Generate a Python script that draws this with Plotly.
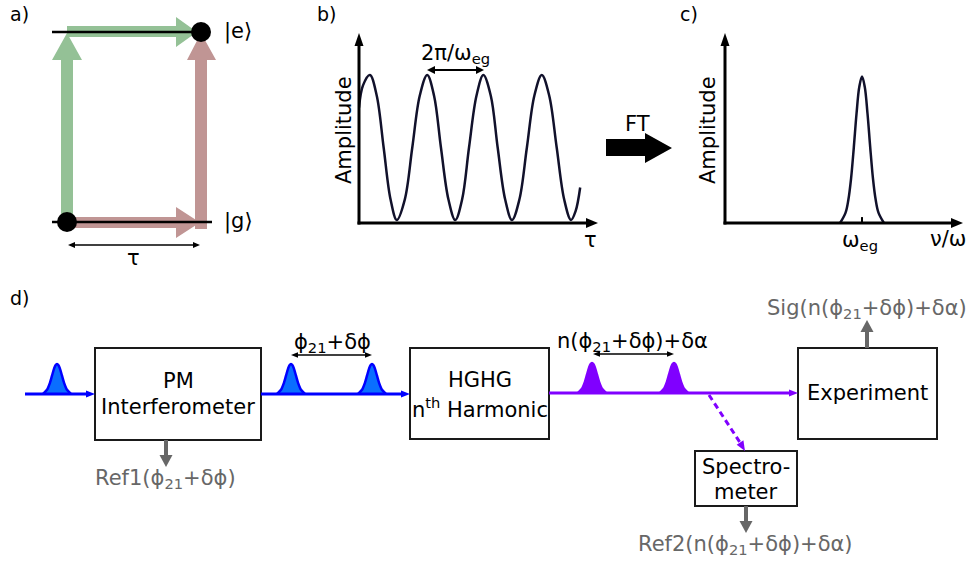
import plotly.graph_objects as go

W, H = 980, 561
FONT = "DejaVu Sans"
GRAY = "#676767"
BLUE = "#0000ff"
BLUE_FILL = "#0a6eff"
PURPLE = "#8000ff"
GREEN = "#94c196"
ROSE = "#c09594"
CURVE = "#11112b"

# ---- data ----
# panel b: interferogram (tau in units of 2pi/w_eg, normalised amplitude)
tau_b = [0.00, 0.07, 0.19, 0.31, 0.43, 0.55, 0.66, 0.80, 0.93, 1.06, 1.19, 1.31, 1.43, 1.56,
         1.68, 1.80, 1.92, 2.05, 2.17, 2.30, 2.42, 2.55, 2.67, 2.80, 2.93, 3.06, 3.19, 3.32,
         3.45, 3.58, 3.70, 3.78, 3.86]
amp_b = [0.78, 0.93, 1.00, 0.86, 0.51, 0.16, 0.02, 0.16, 0.51, 0.86, 1.00, 0.86, 0.51, 0.16,
         0.02, 0.16, 0.51, 0.86, 1.00, 0.86, 0.51, 0.16, 0.02, 0.16, 0.51, 0.86, 1.00, 0.86,
         0.51, 0.16, 0.02, 0.08, 0.24]
# panel c: spectrum (nu in units of w_eg)
nu_c = [0.84, 0.88, 0.90, 0.92, 0.94, 0.96, 0.98, 1.00, 1.02, 1.04, 1.06, 1.08, 1.10, 1.12, 1.16]
amp_c = [0.00, 0.07, 0.155, 0.30, 0.51, 0.74, 0.92, 0.99, 0.92, 0.74, 0.51, 0.30, 0.155, 0.07, 0.00]
# panel d: pulse profile (offset px, relative height)
pulse_dx = [-14, -10, -7, -5, -3, -1.5, 0, 1.5, 3, 5, 7, 10, 14]
pulse_h = [0.0, 0.14, 0.38, 0.61, 0.84, 0.96, 1.0, 0.96, 0.84, 0.61, 0.38, 0.14, 0.0]
blue_pulses = [57, 291, 372]
purple_pulses = [592, 674]

# text labels
lbl_e, lbl_g, lbl_tau = "|e⟩", "|g⟩", "τ"
lbl_amp = "Amplitude"
lbl_period = "2π/ω<sub>eg</sub>"
lbl_weg = "ω<sub>eg</sub>"
lbl_nu = "ν/ω"
lbl_ft = "FT"
lbl_phase1 = "ϕ<sub>21</sub>+δϕ"
lbl_phase2 = "n(ϕ<sub>21</sub>+δϕ)+δα"
lbl_ref1 = "Ref1(ϕ<sub>21</sub>+δϕ)"
lbl_sig = "Sig(n(ϕ<sub>21</sub>+δϕ)+δα)"
lbl_ref2 = "Ref2(n(ϕ<sub>21</sub>+δϕ)+δα)"

fig = go.Figure()

# ---- panel b & c curves ----
fig.add_trace(go.Scatter(x=tau_b, y=amp_b, xaxis="x2", yaxis="y2", mode="lines",
                         line=dict(color=CURVE, width=2.5, shape="spline", smoothing=1.0),
                         hoverinfo="skip", showlegend=False))
fig.add_trace(go.Scatter(x=nu_c, y=amp_c, xaxis="x3", yaxis="y3", mode="lines",
                         line=dict(color=CURVE, width=2.5, shape="spline", smoothing=1.0),
                         hoverinfo="skip", showlegend=False))

# ---- panel d pulses ----
PULSE_HEIGHT = 30
def add_pulse(cx, base_y, line_col, fill_col):
    xs = [cx + d for d in pulse_dx]
    ys = [base_y - PULSE_HEIGHT * h for h in pulse_h]
    fig.add_trace(go.Scatter(x=xs, y=ys, mode="lines", fill="toself", fillcolor=fill_col,
                             line=dict(color=line_col, width=2.5, shape="spline", smoothing=0.8),
                             hoverinfo="skip", showlegend=False))
for c in blue_pulses:
    add_pulse(c, 394, BLUE, BLUE_FILL)
for c in purple_pulses:
    add_pulse(c, 393, PURPLE, PURPLE)

shapes = []
def poly(path, color, layer="above"):
    shapes.append(dict(type="path", path=path, xref="x", yref="y", fillcolor=color,
                       line=dict(width=0), layer=layer))
def line(x0, y0, x1, y1, color="black", width=2.5, dash="solid", xref="x", yref="y"):
    shapes.append(dict(type="line", x0=x0, y0=y0, x1=x1, y1=y1, xref=xref, yref=yref,
                       line=dict(color=color, width=width, dash=dash), layer="above"))
def rect(x0, y0, x1, y1):
    shapes.append(dict(type="rect", x0=x0, y0=y0, x1=x1, y1=y1, xref="x", yref="y",
                       line=dict(color="#1a1a1a", width=2), fillcolor="white", layer="below"))
def circle(cx, cy, r):
    shapes.append(dict(type="circle", x0=cx - r, y0=cy - r, x1=cx + r, y1=cy + r, xref="x", yref="y",
                       fillcolor="black", line=dict(width=0), layer="above"))

def head(tx, ty, direction, length, half, color):
    # filled triangular arrow head with tip at (tx, ty)
    if direction == "right":
        p = f"M{tx},{ty} L{tx-length},{ty-half} L{tx-length},{ty+half} Z"
    elif direction == "left":
        p = f"M{tx},{ty} L{tx+length},{ty-half} L{tx+length},{ty+half} Z"
    elif direction == "up":
        p = f"M{tx},{ty} L{tx-half},{ty+length} L{tx+half},{ty+length} Z"
    else:  # down
        p = f"M{tx},{ty} L{tx-half},{ty-length} L{tx+half},{ty-length} Z"
    poly(p, color)

def harrow(x0, x1, y, color="black", width=1.5, length=8, half=3.5, both=False):
    line(x0 + (length - 1 if both else 0), y, x1 - length + 1, y, color=color, width=width)
    head(x1, y, "right", length, half, color)
    if both:
        head(x0, y, "left", length, half, color)

def varrow(x, y0, y1, color="black", width=1.5, length=8, half=3.5):
    # from y0 to y1 (tip at y1)
    d = "up" if y1 < y0 else "down"
    sgn = 1 if d == "up" else -1
    line(x, y0, x, y1 + sgn * (length - 1), color=color, width=width)
    head(x, y1, d, length, half, color)

# ---- panel a ----
poly("M61,221 L61,60 L52,60 L67,33 L82,60 L73,60 L73,221 Z", GREEN)
poly("M67,26 L176,26 L176,17 L197,32 L176,47 L176,37 L67,37 Z", GREEN)
poly("M195,229 L195,60 L187,60 L201,33 L216,60 L207,60 L207,229 Z", ROSE)
poly("M67,217 L176,217 L176,207 L200,222.5 L176,238 L176,228 L67,228 Z", ROSE)
line(52, 32, 200, 32)
line(52, 222, 212, 222)
circle(201, 32, 10)
circle(67, 222, 10)
harrow(68, 200, 245, width=1.5, length=7, half=3, both=True)

# ---- panel b axes ----
varrow(359, 224.5, 33, width=3, length=13, half=4.5)
harrow(357.5, 598, 223, width=3, length=12, half=5)
harrow(427, 484, 70, width=2, length=8, half=4, both=True)

# ---- FT block arrow ----
poly("M606,139 L645,139 L645,133 L672,148 L645,163 L645,156 L606,156 Z", "black")

# ---- panel c axes ----
varrow(725, 224.5, 33, width=3, length=13, half=4.5)
harrow(723.5, 963, 223, width=3, length=12, half=5)
line(1.0, 0, 1.0, 0.04, width=2, xref="x3", yref="y3")

# ---- panel d boxes ----
rect(95, 348, 261, 440)
rect(410, 348, 549, 439)
rect(798, 348, 937, 439)
rect(695, 451, 797, 506)

# beam lines
harrow(25, 95, 394, color=BLUE, width=3, length=9, half=3.5)
harrow(261, 410, 394, color=BLUE, width=3, length=9, half=3.5)
harrow(549, 798, 393, color=PURPLE, width=3, length=9, half=3.5)
# dashed split-off to spectrometer
line(709, 395, 741, 444, color=PURPLE, width=3, dash="6px,4px")
poly("M745,451 L736.7,444.7 L743.4,440.3 Z", PURPLE)
# phase markers
harrow(291, 372, 355, width=1.5, length=7, half=2.8, both=True)
harrow(593, 674, 354, width=1.5, length=7, half=2.8, both=True)
# gray outputs
varrow(166, 440, 467, color=GRAY, width=4, length=12, half=6.5)
varrow(867, 348, 320, color=GRAY, width=4, length=12, half=6.5)
varrow(746, 506, 533, color=GRAY, width=4, length=12, half=6.5)

ann = []
def text(x, y, t, size=21, color="black", xanchor="center", textangle=0):
    ann.append(dict(x=x, y=y, xref="x", yref="y", text=t, showarrow=False, xanchor=xanchor,
                    yanchor="middle", textangle=textangle,
                    font=dict(family=FONT, size=size, color=color)))

# panel labels
text(19, 14, "a)", size=19)
text(326, 14, "b)", size=19)
text(689, 14, "c)", size=19)
text(19, 298, "d)", size=19)

# panel a texts
text(222, 31, lbl_e, xanchor="left")
text(222, 221, lbl_g, xanchor="left")
text(133, 258, lbl_tau)

# panel b texts
text(344, 130, lbl_amp, textangle=-90)
text(590, 240, lbl_tau)
text(455, 54, lbl_period)

# FT
text(637, 124, lbl_ft)

# panel c texts
text(708, 130, lbl_amp, textangle=-90)
text(860, 241, lbl_weg)
text(948, 239, lbl_nu)

# panel d texts
text(332, 343, lbl_phase1)
text(632, 342, lbl_phase2)
text(178, 381, "PM")
text(178, 407, "Interferometer")
text(480, 380, "HGHG")
text(480, 408, "n<sup>th</sup> Harmonic")
text(867, 393, "Experiment")
text(746, 467, "Spectro-")
text(746, 492, "meter")
text(165, 479, lbl_ref1, color=GRAY)
text(867, 309, lbl_sig, color=GRAY)
text(745, 545, lbl_ref2, color=GRAY)

hidden = dict(visible=False, fixedrange=True)
fig.update_layout(
    width=W, height=H, autosize=False,
    margin=dict(l=0, r=0, t=0, b=0),
    paper_bgcolor="white", plot_bgcolor="rgba(0,0,0,0)",
    font=dict(family=FONT, size=21, color="black"),
    showlegend=False,
    xaxis=dict(range=[0, W], domain=[0, 1], **hidden),
    yaxis=dict(range=[H, 0], domain=[0, 1], **hidden),
    xaxis2=dict(range=[0, 4.171], domain=[359 / W, 598 / W], anchor="y2", **hidden),
    yaxis2=dict(range=[0, 1.284], domain=[(H - 223) / H, (H - 33) / H], anchor="x2", **hidden),
    xaxis3=dict(range=[0, 1.737], domain=[725 / W, 963 / W], anchor="y3", **hidden),
    yaxis3=dict(range=[0, 1.284], domain=[(H - 223) / H, (H - 33) / H], anchor="x3", **hidden),
    shapes=shapes,
    annotations=ann,
)
fig.write_html("out.html", config={"displayModeBar": False},
               post_script="document.body.style.margin='0';document.body.style.overflow='hidden';")
